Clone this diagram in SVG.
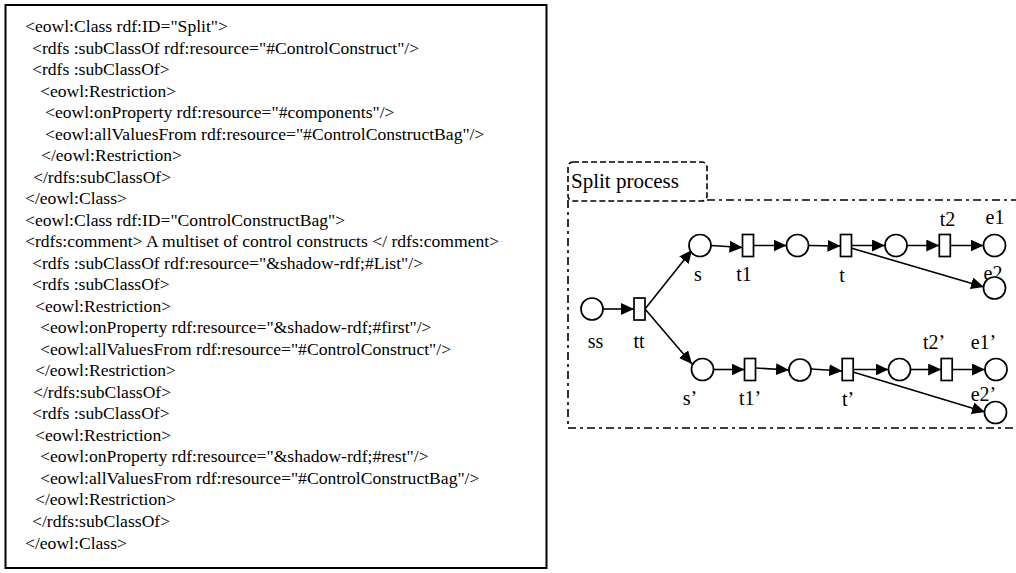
<svg xmlns="http://www.w3.org/2000/svg" width="1016" height="573" viewBox="0 0 1016 573">
  <style>
    .code { font-family: "Liberation Serif", "Times New Roman", serif; font-size: 17.6px; fill: #000; }
    .lbl { font-family: "Liberation Serif", "Times New Roman", serif; font-size: 20px; fill: #000; text-anchor: middle; }
    .title { font-family: "Liberation Serif", "Times New Roman", serif; font-size: 21px; fill: #000; }
    .place { fill: #fff; stroke: #000; stroke-width: 1.7; }
    .trans { fill: #fff; stroke: #000; stroke-width: 1.7; }
    .arc { fill: none; stroke: #000; stroke-width: 1.6; marker-end: url(#arrow); }
  </style>
  <defs>
    <marker id="arrow" markerUnits="userSpaceOnUse" markerWidth="14" markerHeight="12" refX="13" refY="6" orient="auto">
      <path d="M0,0 L13,6 L0,12 z" fill="#000"/>
    </marker>
  </defs>
  <rect width="1016" height="573" fill="#fff"/>

  <!-- OWL listing -->
  <g id="owl-listing">
    <rect x="5.5" y="5" width="541" height="563" fill="none" stroke="#000" stroke-width="2"/>
    <text class="code" x="25" y="32">&lt;eowl:Class rdf:ID="Split"&gt;</text>
    <text class="code" x="32" y="53.5">&lt;rdfs :subClassOf rdf:resource="#ControlConstruct"/&gt;</text>
    <text class="code" x="32" y="75">&lt;rdfs :subClassOf&gt;</text>
    <text class="code" x="40" y="96.5">&lt;eowl:Restriction&gt;</text>
    <text class="code" x="45" y="118">&lt;eowl:onProperty rdf:resource="#components"/&gt;</text>
    <text class="code" x="45" y="139.5">&lt;eowl:allValuesFrom rdf:resource="#ControlConstructBag"/&gt;</text>
    <text class="code" x="41" y="161">&lt;/eowl:Restriction&gt;</text>
    <text class="code" x="33" y="182.5">&lt;/rdfs:subClassOf&gt;</text>
    <text class="code" x="25" y="204">&lt;/eowl:Class&gt;</text>
    <text class="code" x="25" y="225.5">&lt;eowl:Class rdf:ID="ControlConstructBag"&gt;</text>
    <text class="code" x="25" y="247">&lt;rdfs:comment&gt; A multiset of control constructs &lt;/ rdfs:comment&gt;</text>
    <text class="code" x="32" y="268.5">&lt;rdfs :subClassOf rdf:resource="&amp;shadow-rdf;#List"/&gt;</text>
    <text class="code" x="32" y="290">&lt;rdfs :subClassOf&gt;</text>
    <text class="code" x="35" y="311.5">&lt;eowl:Restriction&gt;</text>
    <text class="code" x="40" y="333">&lt;eowl:onProperty rdf:resource="&amp;shadow-rdf;#first"/&gt;</text>
    <text class="code" x="40" y="354.5">&lt;eowl:allValuesFrom rdf:resource="#ControlConstruct"/&gt;</text>
    <text class="code" x="35" y="376">&lt;/eowl:Restriction&gt;</text>
    <text class="code" x="33" y="397.5">&lt;/rdfs:subClassOf&gt;</text>
    <text class="code" x="32" y="419">&lt;rdfs :subClassOf&gt;</text>
    <text class="code" x="35" y="440.5">&lt;eowl:Restriction&gt;</text>
    <text class="code" x="40" y="462">&lt;eowl:onProperty rdf:resource="&amp;shadow-rdf;#rest"/&gt;</text>
    <text class="code" x="40" y="483.5">&lt;eowl:allValuesFrom rdf:resource="#ControlConstructBag"/&gt;</text>
    <text class="code" x="35" y="505">&lt;/eowl:Restriction&gt;</text>
    <text class="code" x="32" y="526.5">&lt;/rdfs:subClassOf&gt;</text>
    <text class="code" x="25" y="549">&lt;/eowl:Class&gt;</text>
  </g>

  <!-- Split process frame -->
  <g id="split-frame">
    <path d="M707,200 H1020 M568,200 V428 H1020" fill="none" stroke="#000" stroke-width="1.6" stroke-dasharray="8 4 3 4"/>
    <rect x="568" y="162" width="139" height="39" rx="5" fill="none" stroke="#000" stroke-width="1.6" stroke-dasharray="6 3"/>
    <text class="title" x="571" y="188">Split process</text>
  </g>

  <!-- arcs -->
  <g id="arcs">
    <path class="arc" d="M603,309 L634,309"/>
    <path class="arc" d="M645,309 L692,250"/>
    <path class="arc" d="M645,309 L692,364"/>
    <path class="arc" d="M711,245.5 L742.5,247.5"/>
    <path class="arc" d="M753.5,245.5 L786.5,245.5"/>
    <path class="arc" d="M808.5,245.5 L840.5,246"/>
    <path class="arc" d="M851,245.5 L885,245.5"/>
    <path class="arc" d="M851,248 L984,287"/>
    <path class="arc" d="M907,245.5 L939.3,245.5"/>
    <path class="arc" d="M950.3,245.5 L983.5,245.5"/>
    <path class="arc" d="M713.5,369.5 L744.5,369.5"/>
    <path class="arc" d="M755.5,368 L789,370"/>
    <path class="arc" d="M811,369 L842.2,371"/>
    <path class="arc" d="M853,369.5 L888.5,369.5"/>
    <path class="arc" d="M853,372 L985,412"/>
    <path class="arc" d="M910.5,369.5 L941.2,369.5"/>
    <path class="arc" d="M952.2,369.5 L985,369.5"/>
  </g>

  <!-- places and transitions -->
  <g id="ss"><circle class="place" cx="592" cy="309" r="11"/><text class="lbl" x="595.5" y="348">ss</text></g>
  <g id="tt"><rect class="trans" x="634" y="298" width="11" height="22"/><text class="lbl" x="639" y="348">tt</text></g>

  <g id="s"><circle class="place" cx="700" cy="245.5" r="11"/><text class="lbl" x="698" y="281">s</text></g>
  <g id="t1"><rect class="trans" x="742.5" y="234.5" width="11" height="22"/><text class="lbl" x="744" y="281">t1</text></g>
  <g id="p1"><circle class="place" cx="797.5" cy="245.5" r="11"/></g>
  <g id="t"><rect class="trans" x="840.5" y="234.5" width="11" height="22"/><text class="lbl" x="842" y="282">t</text></g>
  <g id="p2"><circle class="place" cx="896" cy="245.5" r="11"/></g>
  <g id="t2"><rect class="trans" x="939.3" y="234.5" width="11" height="22"/><text class="lbl" x="947.5" y="226">t2</text></g>
  <g id="e1"><text class="lbl" x="995" y="224">e1</text><circle class="place" cx="994.5" cy="245.5" r="11"/></g>
  <g id="e2"><text class="lbl" x="993" y="280">e2</text><circle class="place" cx="994.5" cy="288" r="11"/></g>

  <g id="s-prime"><circle class="place" cx="702.5" cy="369.5" r="11"/><text class="lbl" x="690" y="405">s’</text></g>
  <g id="t1-prime"><rect class="trans" x="744.5" y="358.5" width="11" height="22"/><text class="lbl" x="750" y="405">t1’</text></g>
  <g id="p3"><circle class="place" cx="800" cy="370" r="11"/></g>
  <g id="t-prime"><rect class="trans" x="842.2" y="358.5" width="11" height="22"/><text class="lbl" x="848" y="406">t’</text></g>
  <g id="p4"><circle class="place" cx="899.5" cy="369.5" r="11"/></g>
  <g id="t2-prime"><rect class="trans" x="941.2" y="358.5" width="11" height="22"/><text class="lbl" x="934" y="349">t2’</text></g>
  <g id="e1-prime"><text class="lbl" x="983.5" y="349">e1’</text><circle class="place" cx="996" cy="369.5" r="11"/></g>
  <g id="e2-prime"><text class="lbl" x="983.5" y="401">e2’</text><circle class="place" cx="995.5" cy="412.5" r="11"/></g>
</svg>
